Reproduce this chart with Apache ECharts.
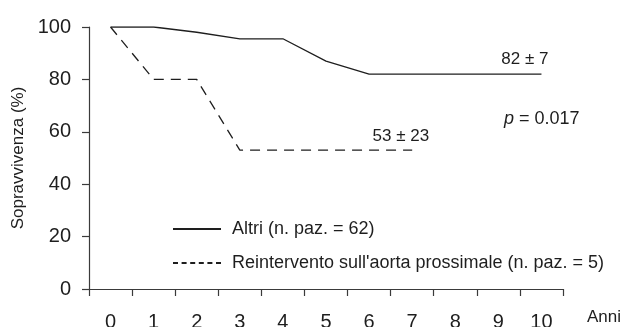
<!DOCTYPE html>
<html>
<head>
<meta charset="utf-8">
<style>
  html, body { margin: 0; padding: 0; background: #fff; }
  #chart { width: 625px; height: 327px; }
</style>
<script src="https://cdn.jsdelivr.net/npm/echarts@6/dist/echarts.min.js"></script>
</head>
<body>
<div id="chart"></div>
<script>
// Follow-up years (category axis)
const years = ['0', '1', '2', '3', '4', '5', '6', '7', '8', '9', '10'];

// Survival (%) per year for each group
const altri = [100, 100, 98, 95.5, 95.5, 87, 82, 82, 82, 82, 82];
const reintervento = [100, 80, 80, 53, 53, 53, 53, 53];

// Standard error quoted at the last observation of each curve
const altriSE = 7;
const reinterventoSE = 23;

const yTicks = [0, 20, 40, 60, 80, 100];

const nameAltri = 'Altri (n. paz. = 62)';
const nameReint = "Reintervento sull'aorta prossimale (n. paz. = 5)";
const pValue = '0.017';

const FONT = '"Liberation Sans", Arial, Helvetica, sans-serif';
const INK = '#1e1e1e';
const AXIS = '#3a3a3a';

// "value ± SE" label drawn at the end of a curve
function endLabel(se, offset) {
  return {
    show: true,
    distance: 0,
    offset: offset,
    align: 'right',
    verticalAlign: 'bottom',
    fontFamily: FONT,
    fontSize: 17,
    color: INK,
    formatter: (p) => p.value + ' \u00b1 ' + se
  };
}

const chart = echarts.init(document.getElementById('chart'), null, { renderer: 'canvas' });

chart.setOption({
  animation: false,
  backgroundColor: '#fff',
  grid: {
    left: 89, right: 62, top: 27, bottom: 38,
    containLabel: false,
    outerBoundsMode: 'none'
  },
  xAxis: {
    type: 'category',
    data: years,
    boundaryGap: true,
    name: 'Anni',
    nameLocation: 'end',
    nameGap: 24,
    nameTextStyle: {
      fontFamily: FONT, fontSize: 17, color: INK,
      verticalAlign: 'top', padding: [20, 0, 0, 0]
    },
    axisLine: { show: true, lineStyle: { color: AXIS, width: 1.2 } },
    axisTick: { show: true, alignWithLabel: false, length: 7, lineStyle: { color: AXIS, width: 1.2 } },
    axisLabel: { fontFamily: FONT, fontSize: 20, color: INK, margin: 23 },
    splitLine: { show: false }
  },
  yAxis: {
    type: 'value',
    min: yTicks[0],
    max: yTicks[yTicks.length - 1],
    interval: yTicks[1] - yTicks[0],
    name: 'Sopravvivenza (%)',
    nameLocation: 'middle',
    nameGap: 62,
    nameRotate: 90,
    nameTextStyle: { fontFamily: FONT, fontSize: 17, color: INK },
    axisLine: { show: true, lineStyle: { color: AXIS, width: 1.2 } },
    axisTick: { show: true, inside: false, length: 7, lineStyle: { color: AXIS, width: 1.2 } },
    axisLabel: { fontFamily: FONT, fontSize: 20, color: INK, margin: 18 },
    splitLine: { show: false }
  },
  legend: {
    orient: 'vertical',
    left: 172,
    top: 220,
    padding: 0,
    itemWidth: 48,
    itemHeight: 14,
    itemGap: 16,
    selectedMode: false,
    // line-only keys: hide the marker that sits in the middle of each key
    itemStyle: { opacity: 0 },
    textStyle: { fontFamily: FONT, fontSize: 18, color: INK, padding: [0, 0, 0, 6] },
    data: [
      { name: nameAltri },
      { name: nameReint, lineStyle: { type: [5, 3.6] } }
    ]
  },
  graphic: [
    {
      type: 'text',
      left: 504,
      top: 110,
      style: {
        text: '{i|p} = ' + pValue,
        font: '18px ' + FONT,
        fill: INK,
        rich: {
          i: { fontStyle: 'italic', fontFamily: FONT, fontSize: 18, fill: INK }
        }
      }
    }
  ],
  series: [
    {
      name: nameAltri,
      type: 'line',
      data: altri,
      symbol: 'none',
      lineStyle: { color: INK, width: 1.3, type: 'solid' },
      itemStyle: { color: INK },
      endLabel: endLabel(altriSE, [7, -6]),
      z: 3
    },
    {
      name: nameReint,
      type: 'line',
      data: reintervento,
      symbol: 'none',
      lineStyle: { color: INK, width: 1.3, type: [10, 7] },
      itemStyle: { color: INK },
      endLabel: endLabel(reinterventoSE, [17, -5]),
      z: 3
    }
  ]
});
</script>
</body>
</html>
